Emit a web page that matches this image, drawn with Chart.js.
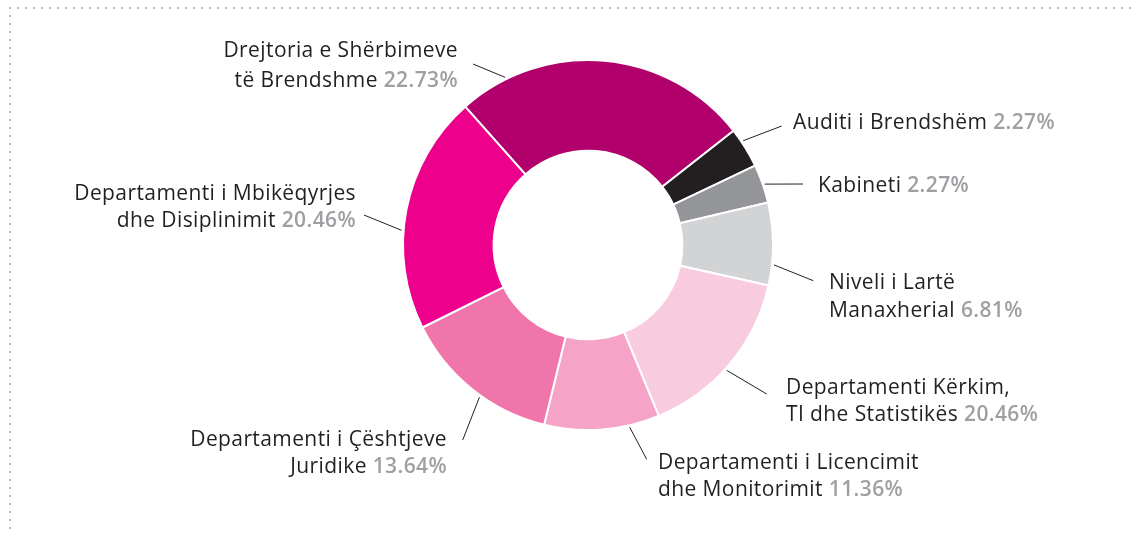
<!DOCTYPE html>
<html>
<head>
<meta charset="utf-8">
<title>Struktura e stafit</title>
<script src="https://cdn.jsdelivr.net/npm/chart.js@4.4.1/dist/chart.umd.min.js"></script>
<style>
  html, body { margin: 0; padding: 0; background: #fff; }
  #wrap { width: 1132px; height: 535px; }
</style>
</head>
<body>
<div id="wrap"><canvas id="staffChart" width="1132" height="535"></canvas></div>
<script>
// emrat e njesive (rreshtat e etiketes)
const departments = [
  ['Drejtoria e Shërbimeve', 'të Brendshme'],
  ['Auditi i Brendshëm'],
  ['Kabineti'],
  ['Niveli i Lartë', 'Manaxherial'],
  ['Departamenti Kërkim,', 'TI dhe Statistikës'],
  ['Departamenti i Licencimit', 'dhe Monitorimit'],
  ['Departamenti i Çështjeve', 'Juridike'],
  ['Departamenti i Mbikëqyrjes', 'dhe Disiplinimit']
];
// perqindjet e shkruara ne etiketa
const percentLabels = ['22.73%', '2.27%', '2.27%', '6.81%', '20.46%', '11.36%', '13.64%', '20.46%'];
// madhesia e harqeve sic jane vizatuar
const arcShares = [25.97, 3.53, 3.36, 7.21, 15.24, 10.06, 13.83, 20.80];
const sliceColors = ['#b1006b', '#231f20', '#939598', '#d1d3d4', '#f8cbdf', '#f5a3c7', '#f075aa', '#ec008c'];

// vendosja e etiketave, relative ndaj qendres se grafikut
const labelLayout = [
  { angle: -116.3, lineEnd: [-115, -181], align: 'right', textX: -130, textY: -188, gap: 30 },
  { angle: -33.9, lineEnd: [193.7, -119], align: 'left', textX: 205, textY: -116, gap: 27 },
  { angle: -19, lineEnd: [215, -61], align: 'left', textX: 230, textY: -53, gap: 27 },
  { angle: 6.1, lineEnd: [225.3, 35.7], align: 'left', textX: 241, textY: 44, gap: 28 },
  { angle: 42.1, lineEnd: [178.7, 149], align: 'left', textX: 198, textY: 149, gap: 27 },
  { angle: 77.1, lineEnd: [58.7, 214.3], align: 'left', textX: 70, textY: 224, gap: 27 },
  { angle: 125.5, lineEnd: [-125.3, 195], align: 'right', textX: -141, textY: 201, gap: 27 },
  { angle: 184.5, lineEnd: [-224, -30], align: 'right', textX: -232, textY: -45, gap: 27 }
];

const FONT_REG = '21px "Open Sans"';
const FONT_BOLD = '600 21px "Open Sans"';
const LETTER_SPACING = '0.4px';
const TEXT_COLOR = '#231f20';
const PCT_COLOR = '#9d9fa2';

// kornize me pika lart dhe majtas
const dottedFrame = {
  id: 'dottedFrame',
  beforeDraw(chart) {
    const ctx = chart.ctx;
    ctx.save();
    ctx.strokeStyle = '#a7a9ac';
    ctx.lineWidth = 2;
    ctx.lineCap = 'round';
    ctx.setLineDash([0, 8]);
    ctx.beginPath();
    ctx.moveTo(1130, 8);
    ctx.lineTo(10, 8);
    ctx.lineTo(10, chart.height);
    ctx.stroke();
    ctx.restore();
  }
};

const calloutLabels = {
  id: 'calloutLabels',
  afterDraw(chart) {
    const ctx = chart.ctx;
    const arcs = chart.getDatasetMeta(0).data;
    const cx = arcs[0].x;
    const cy = arcs[0].y;
    const r = arcs[0].outerRadius;
    ctx.save();
    ctx.textAlign = 'left';
    ctx.textBaseline = 'alphabetic';
    ctx.letterSpacing = LETTER_SPACING;
    labelLayout.forEach((lay, i) => {
      const a = lay.angle * Math.PI / 180;
      ctx.strokeStyle = TEXT_COLOR;
      ctx.lineWidth = 1;
      ctx.beginPath();
      ctx.moveTo(cx + (r + 2) * Math.cos(a), cy + (r + 2) * Math.sin(a));
      ctx.lineTo(cx + lay.lineEnd[0], cy + lay.lineEnd[1]);
      ctx.stroke();

      const lines = departments[i];
      lines.forEach((txt, j) => {
        const last = j === lines.length - 1;
        const main = last ? txt + ' ' : txt;
        ctx.font = FONT_REG;
        const w1 = ctx.measureText(main).width;
        ctx.font = FONT_BOLD;
        const w2 = last ? ctx.measureText(percentLabels[i]).width : 0;
        let x = cx + lay.textX;
        if (lay.align === 'right') x -= w1 + w2;
        const y = cy + lay.textY + j * lay.gap;
        ctx.font = FONT_REG;
        ctx.fillStyle = TEXT_COLOR;
        ctx.fillText(main, x, y);
        if (last) {
          ctx.font = FONT_BOLD;
          ctx.fillStyle = PCT_COLOR;
          ctx.fillText(percentLabels[i], x + w1, y);
        }
      });
    });
    ctx.restore();
  }
};

const ctx = document.getElementById('staffChart').getContext('2d');
new Chart(ctx, {
  type: 'doughnut',
  data: {
    labels: departments.map(d => d.join(' ')),
    datasets: [{
      data: arcShares,
      backgroundColor: sliceColors,
      borderColor: '#ffffff',
      borderWidth: 2
    }]
  },
  options: {
    responsive: false,
    animation: false,
    events: [],
    rotation: -41.6,
    cutout: '51%',
    radius: 185,
    layout: { padding: { top: 60, bottom: 105, left: 403, right: 359 } },
    plugins: {
      legend: { display: false },
      tooltip: { enabled: false }
    }
  },
  plugins: [dottedFrame, calloutLabels]
});
</script>
</body>
</html>
